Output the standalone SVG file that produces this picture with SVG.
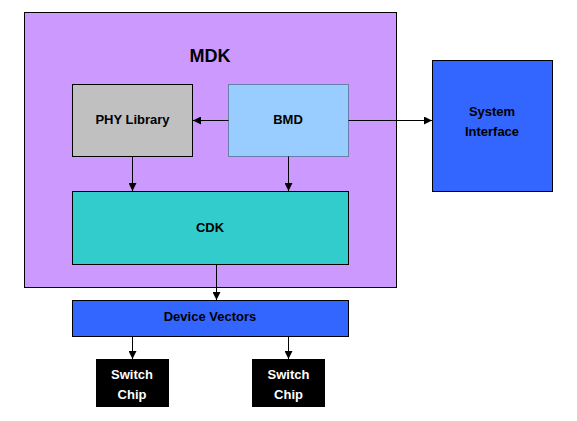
<svg xmlns="http://www.w3.org/2000/svg" width="577" height="421" viewBox="0 0 577 421">
<style>
text{font-family:"Liberation Sans",Arial,sans-serif;font-weight:bold;font-size:13px;text-anchor:middle;fill:#000}
.box{stroke:#000;stroke-width:1}
.w{fill:#fff}
.conn line{stroke:#000;stroke-width:1}
</style>
<defs>
<marker id="ah" viewBox="0 0 8 8" refX="8" refY="4" markerWidth="8" markerHeight="8" markerUnits="userSpaceOnUse" orient="auto">
<path d="M0,0 L8,4 L0,8 Z" fill="#000"/>
</marker>
</defs>
<rect width="577" height="421" fill="#fff"/>
<g id="mdk">
<rect class="box" x="24.5" y="12.5" width="372" height="275" fill="#CC99FF"/>
<text x="210" y="62" style="font-size:18px">MDK</text>
</g>
<g id="phy">
<rect class="box" x="72.5" y="84.5" width="120" height="72" fill="#C0C0C0"/>
<text x="132.5" y="124">PHY Library</text>
</g>
<g id="bmd">
<rect x="228.5" y="84.5" width="120" height="72" fill="#99CCFF" stroke="#6A7FA8"/>
<text x="288" y="124">BMD</text>
</g>
<g id="cdk">
<rect class="box" x="72.5" y="191.5" width="276" height="73" fill="#33CCCC"/>
<text x="210" y="232">CDK</text>
</g>
<g id="sysif">
<rect class="box" x="432.5" y="60.5" width="120" height="131" fill="#3366FF"/>
<text x="492" y="116">System</text>
<text x="492" y="135.5">Interface</text>
</g>
<g id="devvec">
<rect class="box" x="72.5" y="300.5" width="276" height="36" fill="#3366FF"/>
<text x="210" y="321">Device Vectors</text>
</g>
<g id="chip1">
<rect x="96" y="359" width="73" height="48" fill="#000"/>
<text class="w" x="132" y="379">Switch</text>
<text class="w" x="132" y="398.5">Chip</text>
</g>
<g id="chip2">
<rect x="252" y="359" width="73" height="48" fill="#000"/>
<text class="w" x="288.5" y="379">Switch</text>
<text class="w" x="288.5" y="398.5">Chip</text>
</g>
<g id="connectors" class="conn">
<line x1="228.5" y1="120.5" x2="193" y2="120.5" marker-end="url(#ah)"/>
<line x1="348.5" y1="120.5" x2="432" y2="120.5" marker-end="url(#ah)"/>
<line x1="132.5" y1="156.5" x2="132.5" y2="191" marker-end="url(#ah)"/>
<line x1="288.5" y1="156.5" x2="288.5" y2="191" marker-end="url(#ah)"/>
<line x1="216.5" y1="264.5" x2="216.5" y2="300" marker-end="url(#ah)"/>
<line x1="132.5" y1="336.5" x2="132.5" y2="359" marker-end="url(#ah)"/>
<line x1="288.5" y1="336.5" x2="288.5" y2="359" marker-end="url(#ah)"/>
</g>
</svg>
